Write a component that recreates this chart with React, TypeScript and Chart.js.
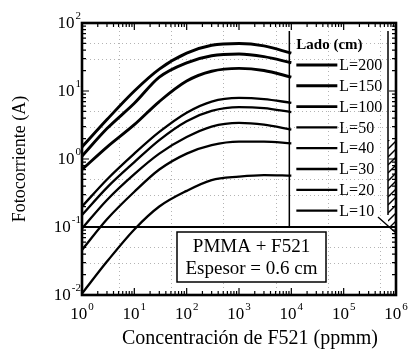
import { useEffect, useRef } from "react";
import { Chart, registerables } from "chart.js";

Chart.register(...registerables);

// Concentración de F521 (ppmm) donde se leen las curvas
const concentration = [1, 3, 10, 30, 100, 300, 1000, 3000, 10000];

// Fotocorriente (A) para cada lado L del concentrador
const seriesLabels = ["L=200", "L=150", "L=100", "L=50", "L=40", "L=30", "L=20", "L=10"];
const L200 = [1.5, 3.8, 10, 21, 36, 47, 50, 46, 36];
const L150 = [1.1, 2.8, 6.6, 16, 26, 33, 35, 32, 26];
const L100 = [0.7, 1.5, 3.2, 7.0, 14, 19.5, 21.5, 20, 16];
const L50 = [0.2, 0.5, 1.2, 2.5, 4.8, 7.0, 7.9, 7.6, 6.7];
const L40 = [0.15, 0.38, 0.9, 1.9, 3.6, 5.1, 5.8, 5.6, 4.9];
const L30 = [0.095, 0.25, 0.6, 1.2, 2.1, 3.0, 3.4, 3.2, 2.7];
const L20 = [0.046, 0.13, 0.33, 0.7, 1.2, 1.6, 1.8, 1.8, 1.7];
const L10 = [0.0105, 0.031, 0.092, 0.2, 0.34, 0.49, 0.55, 0.58, 0.57];
const seriesValues = [L200, L150, L100, L50, L40, L30, L20, L10];

// Ejes: décadas con etiqueta
const xDecades = [0, 1, 2, 3, 4, 5, 6];
const yDecades = [-2, -1, 0, 1, 2];

const legendTitle = "Lado (cm)";
const boxLines = ["PMMA + F521", "Espesor = 0.6 cm"];
const xTitle = "Concentración de F521 (ppmm)";
const yTitle = "Fotocorriente (A)";
const boxThreshold = 0.1;

const SERIF = '"Liberation Serif", "Times New Roman", serif';

function drawPower(
  ctx: CanvasRenderingContext2D,
  exp: number,
  x: number,
  y: number,
  align: "center" | "right",
  supY: number
) {
  const base = "10";
  const sup = String(exp);
  ctx.font = `17px ${SERIF}`;
  const wb = ctx.measureText(base).width;
  ctx.font = `11px ${SERIF}`;
  const ws = ctx.measureText(sup).width;
  const total = wb + ws + 1;
  const x0 = align === "center" ? x - total / 2 : x - total;
  ctx.textAlign = "left";
  ctx.textBaseline = "middle";
  ctx.font = `17px ${SERIF}`;
  ctx.fillText(base, x0, y);
  ctx.font = `11px ${SERIF}`;
  ctx.fillText(sup, x0 + wb + 1, y - supY);
}

const decor = {
  id: "decor",
  beforeDatasetsDraw(chart: any) {
    const { ctx, chartArea: a, scales } = chart;
    const xs = scales.x;
    const ys = scales.y;
    ctx.save();
    ctx.strokeStyle = "#b4b4b4";
    ctx.lineWidth = 1;
    ctx.setLineDash([1, 3]);
    for (const d of xDecades.slice(0, -1)) {
      const px = Math.round(xs.getPixelForValue(5 * 10 ** d)) + 0.5;
      ctx.beginPath();
      ctx.moveTo(px, a.top);
      ctx.lineTo(px, a.bottom);
      ctx.stroke();
    }
    for (const d of yDecades.slice(0, -1)) {
      for (const m of [3, 5]) {
        const py = Math.round(ys.getPixelForValue(m * 10 ** d)) + 0.5;
        ctx.beginPath();
        ctx.moveTo(a.left, py);
        ctx.lineTo(a.right, py);
        ctx.stroke();
      }
    }
    ctx.restore();
  },
  afterDatasetsDraw(chart: any) {
    const { ctx, chartArea: a, scales } = chart;
    const xs = scales.x;
    const ys = scales.y;
    ctx.save();
    ctx.fillStyle = "#000";
    ctx.strokeStyle = "#000";

    // línea horizontal que separa la leyenda del recuadro de muestra
    const yThr = ys.getPixelForValue(boxThreshold);
    ctx.lineWidth = 1.8;
    ctx.beginPath();
    ctx.moveTo(a.left, yThr);
    ctx.lineTo(a.right, yThr);
    ctx.stroke();

    // recuadro de la leyenda
    const legLeft = xs.getPixelForValue(1e4) - 2;
    const legRight = a.right - 8;
    ctx.lineWidth = 1.5;
    ctx.beginPath();
    ctx.moveTo(legLeft, a.top + 8);
    ctx.lineTo(legLeft, yThr);
    ctx.moveTo(legRight, a.top + 8);
    ctx.lineTo(legRight, yThr - 12);
    ctx.stroke();

    // franja rayada junto al borde derecho
    ctx.save();
    ctx.beginPath();
    ctx.rect(legRight, a.top + 117, a.right - legRight, yThr - (a.top + 117));
    ctx.clip();
    ctx.lineWidth = 1.3;
    for (let k = a.top + 110; k < yThr + 20; k += 8) {
      ctx.beginPath();
      ctx.moveTo(legRight, k + 8);
      ctx.lineTo(a.right, k);
      ctx.stroke();
    }
    ctx.restore();
    ctx.lineWidth = 1.4;
    ctx.beginPath();
    ctx.moveTo(legRight - 10, yThr - 10);
    ctx.lineTo(a.right, yThr + 6);
    ctx.stroke();

    ctx.font = `bold 15px ${SERIF}`;
    ctx.textAlign = "left";
    ctx.textBaseline = "middle";
    ctx.fillText(legendTitle, legLeft + 7, a.top + 22);
    chart.data.datasets.forEach((ds: any, i: number) => {
      const yy = a.top + 42 + i * 20.8;
      ctx.lineWidth = ds.borderWidth;
      ctx.beginPath();
      ctx.moveTo(legLeft + 7, yy);
      ctx.lineTo(legLeft + 48, yy);
      ctx.stroke();
      ctx.font = `16px ${SERIF}`;
      ctx.fillText(ds.label, legLeft + 50, yy + 1);
    });

    // recuadro PMMA + F521
    const bx = 177;
    const bw = 149;
    const by = yThr + 5;
    const bh = 50;
    ctx.fillStyle = "#fff";
    ctx.fillRect(bx, by, bw, bh);
    ctx.fillStyle = "#000";
    ctx.lineWidth = 1.5;
    ctx.strokeRect(bx, by, bw, bh);
    ctx.font = `19px ${SERIF}`;
    ctx.textAlign = "center";
    ctx.fillText(boxLines[0], bx + bw / 2, by + 15);
    ctx.fillText(boxLines[1], bx + bw / 2, by + 37);

    // marcas de graduación hacia dentro en los cuatro lados
    ctx.lineWidth = 1.2;
    for (let d = xDecades[0]; d <= xDecades[xDecades.length - 1]; d++) {
      for (let m = 1; m <= 9; m++) {
        const v = m * 10 ** d;
        if (v > 10 ** xDecades[xDecades.length - 1]) break;
        const px = xs.getPixelForValue(v);
        const len = m === 1 ? 7 : 4;
        ctx.beginPath();
        ctx.moveTo(px, a.bottom);
        ctx.lineTo(px, a.bottom - len);
        ctx.moveTo(px, a.top);
        ctx.lineTo(px, a.top + len);
        ctx.stroke();
      }
    }
    for (let d = yDecades[0]; d <= yDecades[yDecades.length - 1]; d++) {
      for (let m = 1; m <= 9; m++) {
        const v = m * 10 ** d;
        if (v > 10 ** yDecades[yDecades.length - 1]) break;
        const py = ys.getPixelForValue(v);
        const len = m === 1 ? 7 : 4;
        ctx.beginPath();
        ctx.moveTo(a.left, py);
        ctx.lineTo(a.left + len, py);
        ctx.moveTo(a.right, py);
        ctx.lineTo(a.right - len, py);
        ctx.stroke();
      }
    }

    // marco
    ctx.lineWidth = 2.6;
    ctx.strokeRect(a.left, a.top, a.right - a.left, a.bottom - a.top);

    // etiquetas de los ejes
    for (const d of xDecades) {
      drawPower(ctx, d, xs.getPixelForValue(10 ** d), a.bottom + 20, "center", 8);
    }
    for (const d of yDecades) {
      drawPower(ctx, d, a.left - 1, ys.getPixelForValue(10 ** d) + 1, "right", 8);
    }

    ctx.textAlign = "center";
    ctx.textBaseline = "middle";
    ctx.font = `20px ${SERIF}`;
    ctx.fillText(xTitle, 250, 339);
    ctx.save();
    ctx.translate(20, (a.top + a.bottom) / 2);
    ctx.rotate(-Math.PI / 2);
    ctx.font = `18px ${SERIF}`;
    ctx.fillText(yTitle, 0, 0);
    ctx.restore();

    ctx.restore();
  },
};

export default function App() {
  const canvasRef = useRef<HTMLCanvasElement | null>(null);

  useEffect(() => {
    const canvas = canvasRef.current;
    if (!canvas) return;
    const datasets = seriesValues.map((vals, i) => ({
      label: seriesLabels[i],
      data: concentration.map((c, j) => ({ x: c, y: vals[j] })),
      borderColor: "#000",
      backgroundColor: "#000",
      borderWidth: i < 3 ? 2.9 : 2.3,
      pointRadius: 0,
      cubicInterpolationMode: "monotone" as const,
      fill: false,
    }));
    const chart = new Chart(canvas, {
      type: "line",
      data: { datasets },
      options: {
        responsive: false,
        animation: false,
        devicePixelRatio: 1,
        layout: { padding: { left: 82, right: 14, top: 23, bottom: 61 } },
        plugins: { legend: { display: false }, tooltip: { enabled: false } },
        scales: {
          x: { type: "logarithmic", min: 1, max: 1e6, display: false },
          y: { type: "logarithmic", min: 0.01, max: 100, display: false },
        },
      },
      plugins: [decor],
    });
    return () => chart.destroy();
  }, []);

  return (
    <div style={{ position: "fixed", left: 0, top: 0, width: 410, height: 356, background: "#fff" }}>
      <canvas ref={canvasRef} width={410} height={356} />
    </div>
  );
}
